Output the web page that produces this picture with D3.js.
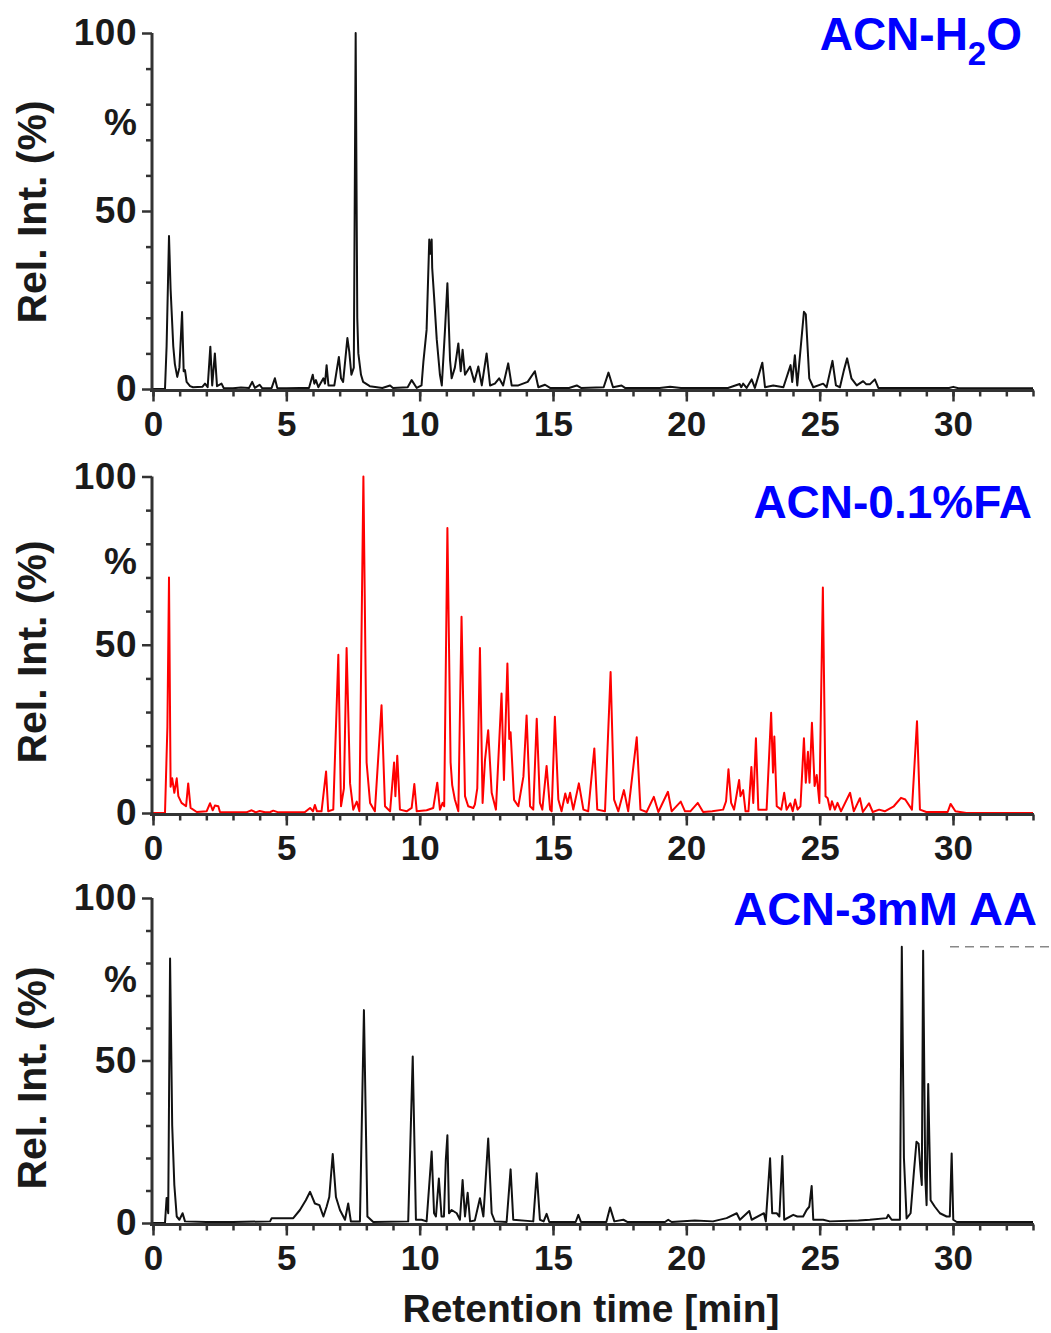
<!DOCTYPE html>
<html><head><meta charset="utf-8">
<script src="https://cdn.jsdelivr.net/npm/d3@7"></script>
<style>
html,body{margin:0;padding:0;background:#fff;}
svg text{font-family:"Liberation Sans",Arial,sans-serif;font-weight:bold;}
</style></head>
<body>
<svg id="chart" width="1051" height="1333"></svg>
<script>
// ---- DATA: retention time [min], relative intensity (%) ----
const traceH2O = [[0,0],[0.45,0],[0.51,12],[0.6,43],[0.66,28],[0.71,20],[0.76,12],[0.82,7],[0.91,3.4],[0.99,6],[1.09,21.6],[1.15,5],[1.2,5.3],[1.26,2],[1.39,0.8],[1.5,0.5],[1.85,0.6],[1.95,1.5],[2.05,0.5],[2.15,11.9],[2.22,1],[2.32,10],[2.4,0.8],[2.57,1.5],[2.65,0.3],[3.0,0.2],[3.3,0.4],[3.6,0.3],[3.72,2],[3.82,0.3],[4.0,1.2],[4.1,0.2],[4.45,0.3],[4.57,3],[4.66,0.3],[5.0,0.2],[5.5,0.3],[5.85,0.3],[5.99,4],[6.05,1.5],[6.11,2.5],[6.2,0.5],[6.39,3],[6.45,1.5],[6.51,6.7],[6.58,1],[6.8,1],[6.97,9],[7.05,3],[7.13,2],[7.29,14.3],[7.36,10.5],[7.44,4],[7.53,6],[7.6,100],[7.66,20],[7.7,10],[7.8,4],[7.88,2],[8.13,0.8],[8.6,0.3],[8.89,1],[9.0,0.3],[9.55,0.5],[9.7,2.5],[9.89,0.3],[10.07,1],[10.14,7.7],[10.26,16.6],[10.36,42],[10.4,38],[10.45,42],[10.47,34],[10.54,26],[10.64,14],[10.76,4],[10.83,1],[10.95,16.6],[11.04,29.7],[11.14,8],[11.2,3],[11.32,6],[11.45,12.8],[11.54,5],[11.61,11],[11.7,4],[11.89,6.3],[12.05,2],[12.2,6.3],[12.33,1],[12.51,10],[12.64,1],[12.82,1.5],[12.98,3],[13.13,1],[13.32,7.2],[13.45,1],[13.7,1],[14.05,2],[14.32,5],[14.45,0.5],[14.7,1.2],[14.89,0.3],[15.6,0.3],[15.89,1],[16.05,0.3],[16.9,0.5],[17.08,4.6],[17.25,0.5],[17.57,1],[17.7,0.3],[19.0,0.3],[19.39,0.6],[19.8,0.3],[20.25,0.3],[21.56,0.3],[22.0,1.4],[22.06,0.5],[22.13,1.5],[22.26,0.3],[22.45,2.7],[22.57,0.3],[22.85,7.4],[22.95,0.5],[23.26,1],[23.64,0.5],[23.91,6.7],[23.97,2],[24.07,9.5],[24.16,1],[24.41,21.7],[24.48,21],[24.61,3],[24.76,0.5],[25.13,1.5],[25.26,0.5],[25.48,7.9],[25.61,1],[25.76,0.5],[25.91,5.3],[26.03,8.6],[26.19,3],[26.39,1],[26.63,2.2],[26.75,1.3],[26.88,1.3],[27.07,2.7],[27.2,0.3],[29.85,0.3],[30.01,0.6],[30.2,0.2],[33,0.2]];

const traceFA = [[0,0],[0.45,0],[0.54,25.6],[0.6,70],[0.66,7.8],[0.72,10.3],[0.8,6],[0.89,10.3],[0.95,5],[1.07,3],[1.24,2],[1.32,8.8],[1.41,1.5],[1.64,0.3],[2.01,0.5],[2.14,2.9],[2.24,0.8],[2.32,2.2],[2.45,2],[2.51,0.3],[3.5,0.2],[3.7,0.8],[3.85,0.2],[4.0,0.6],[4.2,0.2],[4.4,0.3],[4.51,0.7],[4.7,0.2],[5.7,0.3],[5.89,1.5],[6.0,0.5],[6.07,2.4],[6.15,0.5],[6.32,0.5],[6.49,12.3],[6.57,0.5],[6.76,1],[6.95,47],[7.05,2],[7.16,7.3],[7.26,49],[7.39,8.8],[7.51,1],[7.64,3.4],[7.74,0.5],[7.89,100],[8.01,15],[8.14,3],[8.32,0.5],[8.57,32],[8.7,2],[8.89,0.5],[9.04,15],[9.09,5],[9.16,17],[9.26,1],[9.51,0.5],[9.7,1.5],[9.8,8.6],[9.89,0.5],[10.26,0.8],[10.51,1.5],[10.66,9],[10.76,1],[10.86,3],[10.92,2],[11.04,84.7],[11.16,15],[11.22,8.3],[11.32,4],[11.45,0.5],[11.57,58.3],[11.7,5],[11.82,2],[12.01,1.5],[12.07,2.5],[12.16,7.3],[12.26,49],[12.36,3],[12.45,15.7],[12.57,24.6],[12.7,6],[12.86,1],[13.07,35.5],[13.16,9.8],[13.29,44.4],[13.36,22],[13.41,24],[13.54,3.9],[13.7,2],[13.89,10.8],[14.01,29],[14.14,2],[14.26,1],[14.39,28],[14.51,3],[14.6,1],[14.76,14],[14.89,1],[14.95,0.5],[15.07,28.6],[15.2,4],[15.32,0.5],[15.46,5.8],[15.55,3],[15.64,6],[15.76,1],[15.97,8.8],[16.14,1],[16.32,0.5],[16.55,19.2],[16.66,1],[16.95,0.5],[17.16,41.9],[17.29,4],[17.45,0.5],[17.66,6.8],[17.82,0.5],[18.14,22.5],[18.28,1],[18.51,0.3],[18.78,4.8],[18.95,0.3],[19.31,6.3],[19.45,0.5],[19.79,3.4],[19.95,0.5],[20.15,0.5],[20.43,3],[20.63,0.3],[20.97,0.5],[21.38,1],[21.49,3.5],[21.58,13],[21.68,3],[21.79,1],[21.98,9.8],[22.03,5],[22.13,6.8],[22.22,0.5],[22.33,0.5],[22.44,13.7],[22.51,3],[22.61,22.2],[22.7,1],[23.01,1],[23.18,29.8],[23.25,12],[23.3,22.7],[23.39,2],[23.56,1],[23.67,6],[23.76,1],[23.9,2.9],[23.99,0.5],[24.08,4],[24.17,1],[24.28,2],[24.41,22.2],[24.48,9],[24.56,18.2],[24.62,9],[24.71,26.8],[24.81,8],[24.89,11.3],[24.99,3],[25.12,67],[25.22,5],[25.3,4.4],[25.39,1],[25.46,3.5],[25.57,1],[25.67,3],[25.8,0.5],[26.14,6],[26.28,0.5],[26.51,4.4],[26.62,0.3],[26.85,2.9],[26.99,0.3],[27.23,1],[27.44,0.5],[27.78,2],[28.05,4.5],[28.21,4],[28.46,1],[28.65,27.3],[28.76,1],[29.0,0.3],[29.8,0.3],[29.91,2.7],[30.09,0.5],[30.5,0],[33,0]];

const traceAA = [[0,0],[0.45,0],[0.51,7.7],[0.57,3],[0.64,81.4],[0.72,30],[0.8,11.7],[0.89,2],[0.99,1],[1.11,3],[1.2,0.5],[2,0.3],[3,0.3],[4.39,0.5],[4.45,1.5],[5.26,1.5],[5.51,4],[5.73,7],[5.89,9.6],[6.07,6],[6.24,5.5],[6.39,2],[6.51,5],[6.61,8],[6.74,21.2],[6.86,8],[7.01,4],[7.2,1],[7.32,6],[7.42,0.5],[7.76,0.5],[7.91,65.5],[8.04,2],[8.26,0.3],[9.57,0.5],[9.74,51.2],[9.86,1],[10.07,1],[10.26,0.5],[10.45,22],[10.54,3],[10.61,2],[10.72,13.7],[10.82,2],[10.91,2],[10.98,19.4],[11.04,27],[11.1,3],[11.2,4],[11.39,3],[11.51,1],[11.61,13.2],[11.7,2],[11.8,9.3],[11.89,0.5],[12.07,0.8],[12.26,7.6],[12.39,2],[12.57,26],[12.7,3],[12.82,0.5],[13.26,0.3],[13.41,16.5],[13.51,1],[14.26,0.5],[14.39,15.3],[14.51,1],[14.65,0.5],[14.76,2.8],[14.86,0.3],[15.85,0.3],[15.95,2.5],[16.05,0.3],[17.0,0.3],[17.14,4.8],[17.3,0.5],[17.64,1],[17.8,0.3],[19.2,0.3],[19.32,1],[19.45,0.3],[20.32,0.8],[21.0,0.5],[21.51,1.5],[21.89,3],[22.01,1],[22.36,3.7],[22.45,1],[22.91,3],[22.98,0.5],[23.14,19.9],[23.22,3],[23.39,3],[23.49,2],[23.6,20.6],[23.67,1],[24.01,2.5],[24.16,2],[24.38,2],[24.51,4],[24.61,5],[24.7,11.4],[24.76,1],[25.13,1],[25.38,0.5],[26.45,0.8],[26.88,1],[27.51,1.5],[27.57,2.5],[27.7,1],[28.01,1],[28.08,85],[28.16,20],[28.26,1.4],[28.41,3],[28.53,15.3],[28.63,25],[28.71,24.4],[28.78,16.3],[28.83,11.7],[28.88,83.8],[28.96,14],[29.01,5.5],[29.07,42.8],[29.16,7],[29.32,5],[29.51,3],[29.76,2],[29.88,2],[29.95,21.4],[30.01,1],[30.14,0.3],[33,0.3]];

const panelTitles = ["ACN-H2O", "ACN-0.1%FA", "ACN-3mM AA"];
const xMajorTicks = [0, 5, 10, 15, 20, 25, 30];
const xMinorTicks = d3.range(0, 34, 1);
const yMajorTicks = [0, 50, 100];
const yMinorTicks = [10, 20, 30, 40, 60, 70, 80, 90];
const xDomain = [0, 33];
const yDomain = [0, 100];
const yLabel = "Rel. Int. (%)";
const xLabel = "Retention time [min]";

// ---- LAYOUT ----
const svg = d3.select("#chart");
const axisColor = "#333";
const panels = [
  {trace: traceH2O, color: "#111", top: 33,  bottom: 389,  labelY: 212, title: {x: 1022, y: 50, size: 46}},
  {trace: traceFA,  color: "#ff0000", top: 476.5, bottom: 813, labelY: 652, title: {x: 1032, y: 518, size: 46}},
  {trace: traceAA,  color: "#111", top: 898, bottom: 1223, labelY: 1078, title: {x: 1037, y: 925, size: 47}}
];
const x = d3.scaleLinear().domain(xDomain).range([153, 1033]);

panels.forEach((p, i) => {
  const y = d3.scaleLinear().domain(yDomain).range([p.bottom, p.top]);
  const g = svg.append("g");

  // trace
  const line = d3.line().x(d => x(d[0])).y(d => y(d[1]));
  g.append("path").datum(p.trace)
    .attr("d", line).attr("fill", "none")
    .attr("stroke", p.color).attr("stroke-width", 2)
    .attr("stroke-linejoin", "round");

  const axisY0 = p.bottom + 1.5;

  const xMin = g.append("g").attr("transform", `translate(0,${axisY0})`)
    .call(d3.axisBottom(x).tickValues(xMinorTicks).tickSize(6).tickSizeOuter(0).tickFormat(""));
  const xMaj = g.append("g").attr("transform", `translate(0,${axisY0})`)
    .call(d3.axisBottom(x).tickValues(xMajorTicks).tickSize(11).tickPadding(10).tickSizeOuter(0).tickFormat(d3.format("d")));
  xMin.select(".domain").remove();
  xMaj.select(".domain").attr("d", `M${x(0)-3},0H${x(33)+1}`);

  const yMin = g.append("g").attr("transform", `translate(152,0)`)
    .call(d3.axisLeft(y).tickValues(yMinorTicks).tickSize(6).tickSizeOuter(0).tickFormat(""));
  const yMaj = g.append("g").attr("transform", `translate(152,0)`)
    .call(d3.axisLeft(y).tickValues(yMajorTicks).tickSize(10).tickPadding(5).tickSizeOuter(0).tickFormat(d3.format("d")));
  yMin.select(".domain").remove();
  yMaj.select(".domain").attr("d", `M0,${y(100)}V${axisY0+1.5}`);

  [xMin, xMaj, yMin, yMaj].forEach(a => {
    a.selectAll(".domain").attr("stroke", axisColor).attr("stroke-width", 3);
    a.selectAll(".tick line").attr("stroke", axisColor).attr("stroke-width", 2.5);
  });
  xMaj.selectAll(".tick text").attr("fill", "#1a1a1a").attr("font-size", 35)
    .attr("font-family", '"Liberation Sans", Arial, sans-serif').attr("font-weight", "bold");
  yMaj.selectAll(".tick text").attr("fill", "#1a1a1a").attr("font-size", 37)
    .attr("font-family", '"Liberation Sans", Arial, sans-serif').attr("font-weight", "bold")
    .attr("letter-spacing", 0.5);

  g.append("text").attr("x", 137).attr("y", y(75)).attr("dy", "0.35em")
    .attr("text-anchor", "end").attr("font-size", 37).attr("fill", "#1a1a1a").text("%");

  g.append("text")
    .attr("transform", `translate(46,${p.labelY}) rotate(-90)`)
    .attr("text-anchor", "middle").attr("font-size", 41).attr("fill", "#1a1a1a")
    .text(yLabel);

  const t = g.append("text").attr("x", p.title.x).attr("y", p.title.y)
    .attr("text-anchor", "end").attr("fill", "#0000ff").attr("font-size", p.title.size);
  if (i === 0) {
    t.append("tspan").text("ACN-H");
    t.append("tspan").attr("font-size", 33).attr("dy", 15).text("2");
    t.append("tspan").attr("dy", -15).text("O");
  } else {
    t.text(panelTitles[i]);
  }

  if (i === 2) {
    g.append("line").attr("x1", 950).attr("x2", 1051)
      .attr("y1", y(85)).attr("y2", y(85))
      .attr("stroke", "#888").attr("stroke-width", 1.5).attr("stroke-dasharray", "9,6");
  }
});

svg.append("text").attr("x", 591).attr("y", 1322).attr("text-anchor", "middle")
  .attr("font-size", 39).attr("fill", "#1a1a1a").text(xLabel);
</script>
</body></html>
